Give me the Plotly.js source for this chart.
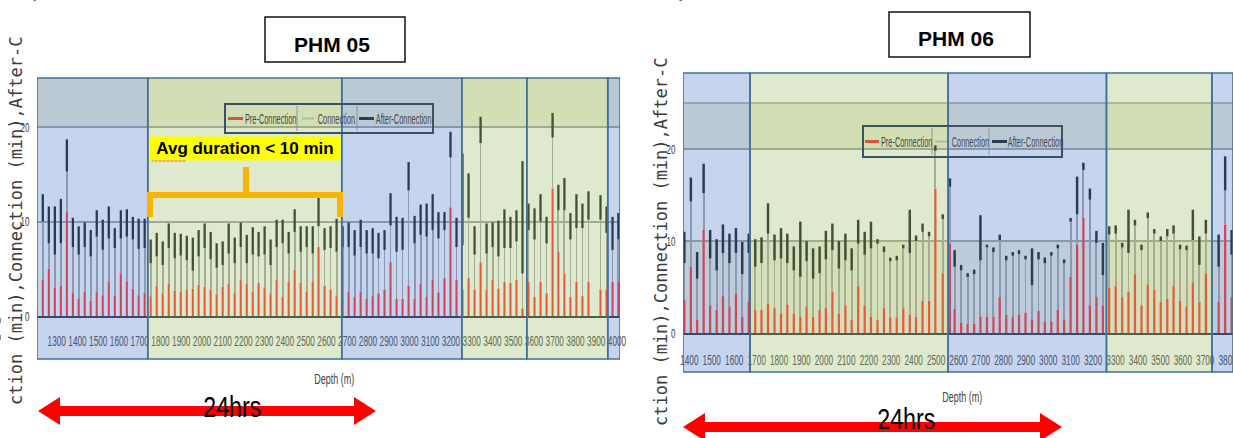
<!DOCTYPE html>
<html><head><meta charset="utf-8">
<script src="https://cdn.plot.ly/plotly-3.0.1.min.js"></script>
<style>
html,body{margin:0;padding:0;background:#fff;} #chart{width:1233px;height:438px;}
/* condensed look of the original (squeezed) chart text */
.xtick, .x2tick { transform: scaleX(0.55); transform-box: fill-box; transform-origin: center; }
.ytick, .y2tick { transform: scaleX(0.62); transform-box: fill-box; transform-origin: 100% 50%; }
.annotation[data-index="4"] text.annotation-text, .annotation[data-index="5"] text.annotation-text { transform: scaleX(0.6); transform-box: fill-box; transform-origin: center; }
.annotation[data-index="7"] text.annotation-text, .annotation[data-index="8"] text.annotation-text { transform: scaleX(0.8); transform-box: fill-box; transform-origin: center; }
.annotation[data-index="9"] text.annotation-text, .annotation[data-index="10"] text.annotation-text, .annotation[data-index="11"] text.annotation-text,
.annotation[data-index="12"] text.annotation-text, .annotation[data-index="13"] text.annotation-text, .annotation[data-index="14"] text.annotation-text { transform: scaleX(0.53); transform-box: fill-box; transform-origin: center; }
</style>
</head><body><div id="chart"></div>
<script>
// ---------------- DATA ----------------
// PHM 05 : connection depths (m) and durations (min)
const depth05 = [1233,1262,1291,1320,1349,1378,1406,1435,1464,1493,1522,1551,1580,1609,1638,1667,1695,1724,
  1753,1782,1811,1840,1869,1898,1927,1956,1984,2013,2042,2071,2100,2129,2158,2187,2216,2245,2273,2302,2331,2360,2389,2418,2447,2476,2505,2534,2562,2591,2620,2649,
  2678,2707,2736,2765,2794,2823,2851,2880,2909,2938,2967,2996,3025,3054,3083,3112,3140,3169,3198,3227,
  3256,3285,3314,3343,3372,3401,3429,3458,3487,3516,3545,
  3574,3603,3632,3661,3690,3718,3747,3776,3805,3834,3863,3921,3950,3979,4007];
const pre05 = [3.8,5.0,3.0,3.2,11.0,2.5,1.8,2.6,1.6,2.6,2.2,3.6,2.2,4.5,3.6,2.9,2.2,2.5,
  2.1,3.2,2.4,3.4,2.7,2.6,2.8,2.9,3.3,3.1,2.8,2.3,3.1,3.4,2.5,3.8,3.4,2.6,3.5,3.0,2.4,3.8,2.0,3.6,4.9,3.5,2.6,3.6,7.3,3.2,2.8,2.1,
  2.1,2.6,2.0,2.6,1.8,2.1,2.4,2.8,5.7,1.8,1.8,3.2,1.8,3.4,2.0,3.8,2.5,4.0,11.5,3.8,
  2.8,4.0,2.8,5.7,2.8,3.8,2.9,3.6,3.5,3.8,0.8,
  3.6,2.0,3.6,2.4,13.5,6.8,4.5,2.0,3.6,2.1,3.6,2.8,2.8,3.6,3.6];
const conn05 = [6.2,2.7,3.5,4.5,4.3,4.8,4.7,4.7,4.7,5.8,4.8,4.6,5.0,3.7,4.8,5.2,4.9,4.7,
  3.5,3.1,3.0,3.8,3.4,3.8,3.1,1.9,3.0,4.1,3.2,2.8,2.3,3.2,3.1,3.5,2.2,3.9,2.8,3.5,3.0,3.5,5.7,3.0,4.0,3.3,4.7,3.0,2.2,3.8,4.4,4.7,
  5.2,4.7,4.4,4.7,4.8,4.5,3.7,4.2,3.9,5.0,5.2,10.1,5.9,5.2,6.4,5.3,5.7,5.1,5.3,3.5,
  4.7,6.4,3.7,12.6,3.8,3.5,3.4,3.6,3.7,4.1,3.7,
  5.5,6.1,6.4,5.3,5.4,4.4,6.7,6.1,5.7,7.2,6.6,7.4,6.0,3.4,4.5];
const after05 = [2.9,3.9,5.1,4.7,3.4,3.1,3.0,2.6,2.8,2.8,3.2,3.4,2.1,3.0,2.9,2.4,3.2,3.1,
  2.5,2.5,2.5,2.6,2.7,2.3,2.6,3.5,2.8,2.6,2.9,2.6,2.5,3.2,2.7,2.6,3.0,2.9,2.6,3.0,2.7,2.9,2.5,2.3,2.4,2.7,2.2,2.9,3.1,2.3,2.3,3.5,
  2.2,2.6,2.7,2.9,2.5,2.7,2.7,2.1,3.4,3.7,3.4,3.0,2.9,3.2,3.5,3.8,2.8,1.9,2.7,3.1,
  9.7,4.7,3.0,2.8,3.2,2.6,3.8,4.1,3.3,3.3,11.9,
  2.8,3.3,2.9,2.8,2.6,2.7,3.4,2.8,3.6,2.6,3.0,2.6,2.8,3.5,2.8];

// PHM 06
const depth06 = [1378,1407,1435,1464,1493,1522,1550,1579,1608,1636,1665,1694,1722,1751,1780,1809,1837,1866,1895,1923,
  1952,1981,2009,2038,2067,2096,2124,2153,2182,2210,2239,2268,2296,2325,2354,2383,2411,2440,2469,2497,
  2530,2562,2583,2612,2641,2670,2698,2727,2756,2784,2813,2842,2870,2899,2928,2957,2985,3014,3043,3071,
  3100,3129,3157,3186,3215,3244,3272,3301,3330,3358,3387,3416,3444,3473,3502,3531,3559,3588,3617,3645,3674,3703,
  3760,3789,3818];
const pre06 = [3.6,7.2,1.4,11.2,3.0,2.5,4.0,2.9,4.3,1.8,3.4,2.5,2.5,3.2,2.7,2.1,3.1,2.1,1.8,2.9,
  1.8,2.5,2.7,4.5,2.1,3.0,1.4,5.1,3.0,1.8,1.4,2.7,1.7,1.7,2.7,2.0,1.8,3.5,3.5,15.7,
  6.5,9.7,2.6,1.1,1.0,1.0,1.8,1.8,1.8,3.9,2.0,1.7,2.0,2.2,1.5,2.4,1.2,1.2,2.5,1.5,
  6.1,9.6,12.5,3.0,3.9,3.0,4.9,5.1,3.9,4.5,6.4,3.0,5.3,4.7,3.4,3.7,5.1,3.5,2.9,5.5,3.4,6.5,
  3.4,11.8,3.9];
const conn06 = [4.0,7.1,4.5,4.0,5.1,4.3,4.7,4.7,4.4,4.6,5.3,4.7,5.1,7.6,5.2,6.0,4.5,4.7,4.3,4.9,
  4.1,4.0,5.3,4.5,4.9,4.9,5.4,4.6,5.5,7.4,8.3,6.1,6.1,6.2,6.5,6.7,8.2,7.5,7.0,4.1,
  5.9,6.2,4.6,5.7,5.1,5.4,6.1,7.5,7.0,6.2,5.9,6.7,6.6,5.8,3.7,5.6,6.4,7.2,6.7,6.1,
  6.0,3.3,5.2,11.5,5.9,3.3,5.8,5.7,5.4,4.2,5.3,6.0,7.2,6.1,6.6,6.8,5.7,5.6,6.1,4.6,4.0,4.3,
  3.8,3.7,4.6];
const after06 = [3.4,2.6,2.9,3.2,3.1,3.4,3.1,3.2,2.7,3.5,2.1,3.0,2.8,3.3,2.8,3.3,3.2,2.6,6.0,2.2,
  3.3,2.9,3.1,2.9,3.0,2.9,2.4,2.6,2.5,2.9,0.5,0.6,0.4,0.5,0.4,4.7,0.6,0.9,0.5,0.6,
  0.5,0.9,1.8,0.6,0.4,0.5,4.9,0.3,0.5,0.6,0.5,0.4,0.4,0.4,4.0,0.8,0.6,0.4,0.4,0.4,
  0.4,4.1,0.8,1.2,1.3,3.5,0.9,0.9,0.5,4.7,0.6,0.6,0.6,0.5,0.5,0.8,0.9,0.5,0.5,3.3,3.1,1.5,
  3.5,3.7,2.7];

const ticks05 = [1300,1400,1500,1600,1700,1800,1900,2000,2100,2200,2300,2400,2500,2600,2700,2800,2900,3000,3100,3200,3300,3400,3500,3600,3700,3800,3900,4000];
const ticks06 = [1400,1500,1600,1700,1800,1900,2000,2100,2200,2300,2400,2500,2600,2700,2800,2900,3000,3100,3200,3300,3400,3500,3600,3700,3800];
const seriesNames = ['Pre-Connection','Connection','After-Connection'];
const chartTitles = ['PHM 05','PHM 06'];
// highlighted depth intervals (band edges in m) and their kind
const bandEdges05 = [1205,1739,2674,3253,3566,3956,4015];
const bandKinds05 = ['blue','green','blue','green','green','blue'];
const bandEdges06 = [1372,1671,2554,3260,3730,3824];
const bandKinds06 = ['blue','green','blue','green','blue'];

// ---------------- STYLE ----------------
const W = 1233, H = 438;
const px = v => v / W;
const py = v => 1 - v / H;
const SANS = "'Liberation Sans',Arial,sans-serif";
const RED = '#ff3a30', GRAY = '#ababab', DARK = '#1c2528';
const BANDFILL = {blue:'rgba(68,114,196,0.30)', green:'rgba(148,182,88,0.30)'};
const BANDLINE = '#41719c';

function barTraces(depth, pre, conn, after, xa, ya, wRed, wGray, wDark) {
  const topConn = pre.map((p, i) => p + conn[i]);
  const common = {type:'bar', x: depth, xaxis: xa, yaxis: ya, showlegend:false, hoverinfo:'skip'};
  return [
    Object.assign({}, common, {name: seriesNames[0], y: pre, base: 0, width: wRed, marker:{color: RED, line:{width:0}}}),
    Object.assign({}, common, {name: seriesNames[1], y: conn, base: pre, width: wGray, marker:{color: GRAY, line:{width:0}}}),
    Object.assign({}, common, {name: seriesNames[2], y: after, base: topConn, width: wDark, marker:{color: DARK, line:{width:0}}})
  ];
}

const data = [].concat(
  barTraces(depth05, pre05, conn05, after05, 'x', 'y', 10, 4, 11),
  barTraces(depth06, pre06, conn06, after06, 'x2', 'y2', 10, 4, 11)
);

const shapes = [];
// plot-area stripes (below data)
shapes.push({type:'rect', xref:'x domain', yref:'y', x0:0, x1:1, y0:20, y1:30, fillcolor:'#ecf0dc', line:{width:0}, layer:'below'});
shapes.push({type:'rect', xref:'x2 domain', yref:'y2', x0:0, x1:1, y0:20, y1:25, fillcolor:'#ecf0dc', line:{width:0}, layer:'below'});
shapes.push({type:'rect', xref:'x2 domain', yref:'y2', x0:0, x1:1, y0:0, y1:10, fillcolor:'#f1f3e4', line:{width:0}, layer:'below'});
shapes.push({type:'line', xref:'x2 domain', yref:'y2', x0:0, x1:1, y0:25, y1:25, line:{color:'#a3a9a8', width:1.5}, layer:'below'});

// highlighted bands (semi-transparent overlays)
function bands(edges, kinds, xref, top, bottom) {
  for (let i = 0; i < kinds.length; i++) {
    shapes.push({type:'rect', xref: xref, yref:'paper', x0: edges[i], x1: edges[i+1], y0: py(bottom), y1: py(top),
      fillcolor: BANDFILL[kinds[i]], line:{color: BANDLINE, width:1.6}, layer:'above'});
  }
}
bands(bandEdges05, bandKinds05, 'x', 78, 359);
bands(bandEdges06, bandKinds06, 'x2', 73, 372);

// title boxes
shapes.push({type:'rect', xref:'paper', yref:'paper', x0:px(265), x1:px(405), y0:py(62), y1:py(17), line:{color:'#111', width:1.5}, fillcolor:'#fff', layer:'above'});
shapes.push({type:'rect', xref:'paper', yref:'paper', x0:px(889), x1:px(1030), y0:py(57), y1:py(12), line:{color:'#111', width:1.5}, fillcolor:'#fff', layer:'above'});

// legends drawn as boxes with line samples
function legendBox(x0, x1, y0, y1, seps, lines) {
  shapes.push({type:'rect', xref:'paper', yref:'paper', x0:px(x0), x1:px(x1), y0:py(y1), y1:py(y0), line:{color:'#3a5266', width:2}, layer:'above'});
  seps.forEach(s => shapes.push({type:'line', xref:'paper', yref:'paper', x0:px(s), x1:px(s), y0:py(y0+2), y1:py(y1-2), line:{color:'#8c9494', width:1}, layer:'above'}));
  const ym = (y0 + y1) / 2;
  const cols = ['#e4503a', '#b4b8b0', '#2c3e50'];
  const wid = [3, 2, 3];
  lines.forEach((l, i) => shapes.push({type:'line', xref:'paper', yref:'paper', x0:px(l[0]), x1:px(l[1]), y0:py(ym), y1:py(ym), line:{color: cols[i], width: wid[i]}, layer:'above'}));
}
legendBox(225, 433, 104, 133, [297, 357], [[228,243],[302,314],[359,374]]);
legendBox(863, 1062, 126, 157, [932, 989], [[865,879],[935,947],[992,1007]]);

// orange bracket
shapes.push({type:'path', xref:'paper', yref:'paper',
  path:`M${px(150)},${py(217)} L${px(150)},${py(195)} L${px(340)},${py(195)} L${px(340)},${py(217)} M${px(246)},${py(195)} L${px(246)},${py(167)}`,
  line:{color:'#f8b400', width:6}, layer:'above'});

// red double arrows
function arrow(x1, x2, yc, sh, hl, hh) {
  const p = [[x1,yc],[x1+hl,yc-hh],[x1+hl,yc-sh],[x2-hl,yc-sh],[x2-hl,yc-hh],[x2,yc],[x2-hl,yc+hh],[x2-hl,yc+sh],[x1+hl,yc+sh],[x1+hl,yc+hh]];
  return 'M' + p.map(q => px(q[0]) + ',' + py(q[1])).join(' L') + ' Z';
}
shapes.push({type:'path', xref:'paper', yref:'paper', path: arrow(38, 376, 411, 5, 22, 14), fillcolor:'#ff0000', line:{width:0}, layer:'above'});
shapes.push({type:'path', xref:'paper', yref:'paper', path: arrow(683, 1062, 427, 5, 22, 14), fillcolor:'#ff0000', line:{width:0}, layer:'above'});

// spell-check squiggle under "Avg"
let sq = '';
for (let x = 152, k = 0; x <= 186; x += 2, k++) sq += (k ? ' L' : 'M') + px(x) + ',' + py(k % 2 ? 159.5 : 161.5);
shapes.push({type:'path', xref:'paper', yref:'paper', path: sq, line:{color:'#e02020', width:1}, layer:'above'});

const annotations = [
  {text:'ction (min),Connection (min),After-C', x:px(16), y:py(221), textangle:-90, font:{family:"'DejaVu Sans Mono',monospace", size:17, color:'#3c3c3c'}},
  {text:'ction (min),Connection (min),After-C', x:px(661), y:py(242), textangle:-90, font:{family:"'DejaVu Sans Mono',monospace", size:17, color:'#3c3c3c'}},
  {text:'<b>' + chartTitles[0] + '</b>', x:px(332), y:py(44), font:{family:SANS, size:21, color:'#000'}},
  {text:'<b>' + chartTitles[1] + '</b>', x:px(956), y:py(38), font:{family:SANS, size:21, color:'#000'}},
  {text:'Depth (m)', x:px(334), y:py(378), font:{family:SANS, size:15, color:'#444'}},
  {text:'Depth (m)', x:px(962), y:py(396), font:{family:SANS, size:15, color:'#444'}},
  {text:'<b>Avg duration &lt; 10 min</b>', x:px(245), y:py(148.5), width:188, height:21, bgcolor:'#ffff00', borderpad:1, font:{family:SANS, size:17, color:'#000'}},
  {text:'24hrs', x:px(232), y:py(407), font:{family:SANS, size:29, color:'#000'}},
  {text:'24hrs', x:px(906), y:py(419), font:{family:SANS, size:29, color:'#000'}},
  {text:seriesNames[0], x:px(270), y:py(118.5), font:{family:SANS, size:14, color:'#4a4a4a'}},
  {text:seriesNames[1], x:px(336), y:py(118.5), font:{family:SANS, size:14, color:'#4a4a4a'}},
  {text:seriesNames[2], x:px(403), y:py(118.5), font:{family:SANS, size:14, color:'#4a4a4a'}},
  {text:seriesNames[0], x:px(906), y:py(141.5), font:{family:SANS, size:14, color:'#4a4a4a'}},
  {text:seriesNames[1], x:px(970), y:py(141.5), font:{family:SANS, size:14, color:'#4a4a4a'}},
  {text:seriesNames[2], x:px(1035), y:py(141.5), font:{family:SANS, size:14, color:'#4a4a4a'}}
].map(a => Object.assign({xref:'paper', yref:'paper', showarrow:false, xanchor:'center', yanchor:'middle'}, a));

const xCommon = {tickmode:'array', tickangle:0, ticks:'outside', ticklen:5, tickcolor:'#8a8f8f', tickwidth:1,
  tickfont:{family:SANS, size:15, color:'#4a4a4a'}, showline:true, linecolor:'#2f3942', linewidth:2,
  showgrid:false, zeroline:false, fixedrange:true, ticklabeloverflow:'allow'};
const yCommon = {tickmode:'array', tickvals:[0,10,20], ticks:'outside', ticklen:4, tickcolor:'#555',
  tickfont:{family:SANS, size:13, color:'#333'}, showgrid:true, gridcolor:'#a3a9a8', gridwidth:1.5,
  zeroline:false, showline:false, fixedrange:true};

const layout = {
  width: W, height: H, margin:{l:0, r:0, t:0, b:0},
  paper_bgcolor:'#ffffff', plot_bgcolor:'#ffffff',
  barmode:'overlay', showlegend:false, hovermode:false,
  xaxis: Object.assign({}, xCommon, {domain:[px(37), px(620)], range:[1205, 4015], anchor:'y',
    tickvals: ticks05, ticktext: ticks05.map(String), ticklabelstandoff: 5}),
  yaxis: Object.assign({}, yCommon, {domain:[py(316), py(78)], range:[0, 25.2], anchor:'x'}),
  xaxis2: Object.assign({}, xCommon, {domain:[px(683), 1], range:[1372, 3824], anchor:'y2',
    tickvals: ticks06, ticktext: ticks06.map(String), ticklabelstandoff: 7}),
  yaxis2: Object.assign({}, yCommon, {domain:[py(333), py(73)], range:[0, 28.26], anchor:'x2'}),
  shapes: shapes,
  annotations: annotations
};

Plotly.newPlot('chart', data, layout, {displayModeBar:false, responsive:false});
</script>
</body></html>
